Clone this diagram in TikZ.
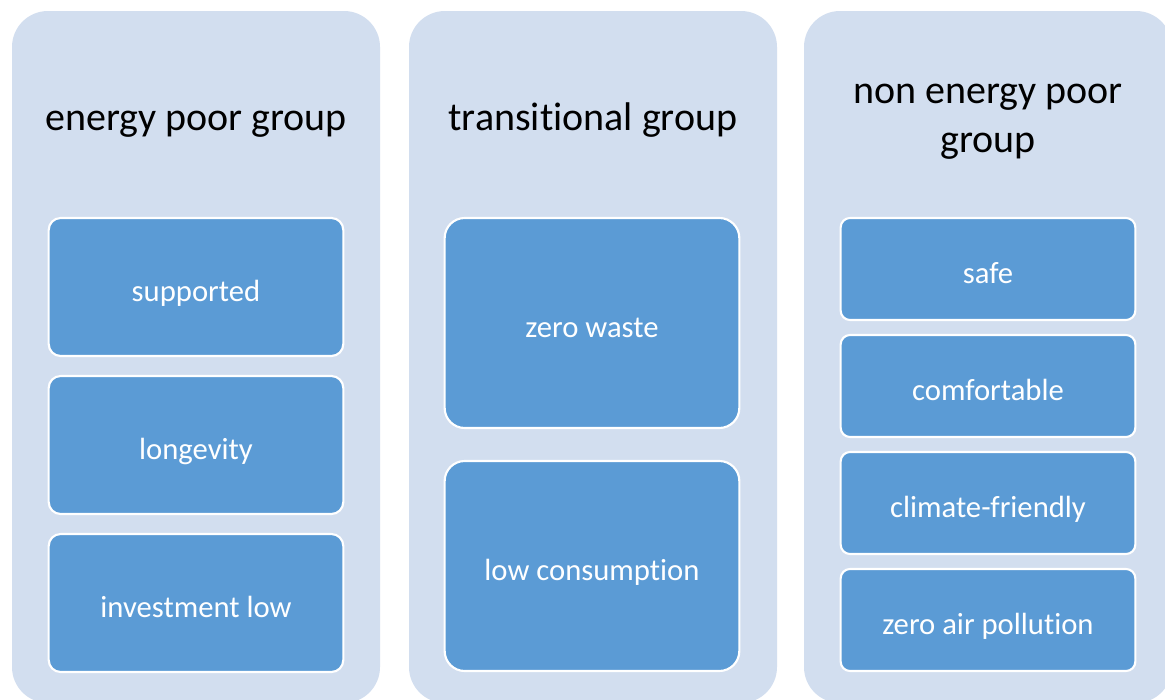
\documentclass[tikz,border=0pt]{standalone}
\usepackage{fontspec}
\setmainfont{Carlito}[Ligatures=NoCommon]
\definecolor{panelfill}{RGB}{210,222,239}
\definecolor{itemfill}{RGB}{91,155,213}
\begin{document}
\begin{tikzpicture}[x=0.75pt,y=-0.75pt,
  panel/.style={draw=none,fill=panelfill,rounded corners=27pt,inner sep=0pt,
    minimum width=276pt,minimum height=519pt},
  itembox/.style={fill=itemfill,draw=white,line width=1.6pt,inner sep=0pt,
    text=white,font=\fontsize{23}{28}\selectfont,
    text height=21pt,text depth=0pt,minimum width=#1},
  itembox/.default=221pt,
  heading/.style={anchor=base,font=\fontsize{30}{36.75}\selectfont,text=black,
    inner sep=0pt,align=center}]
\useasboundingbox (0,0) rectangle (1165,700);
\clip (0,0) rectangle (1165,700);
\fill[white] (0,0) rectangle (1165,700);

% three group panels
\node[panel] (p1) at (196,357) {};
\node[panel] (p2) at (593,357) {};
\node[panel] (p3) at (988,357) {};

% headings
\node[heading] (h1) at (196,130) {energy poor group};
\node[heading] (h2) at (593,130) {transitional group};
\node[heading,anchor=north] (h3) at (988,84) {non energy poor\\group};

% energy poor group
\node[itembox,minimum height=103.5pt,rounded corners=9pt] (a1) at (196,287) {supported};
\node[itembox,minimum height=103.5pt,rounded corners=9pt] (a2) at (196,445) {longevity};
\node[itembox,minimum height=103.5pt,rounded corners=9pt] (a3) at (196,603) {investment low};

% transitional group
\node[itembox,minimum height=157.5pt,rounded corners=15pt] (b1) at (592,323) {zero waste};
\node[itembox,minimum height=157.5pt,rounded corners=15pt] (b2) at (592,566) {low consumption};

% non energy poor group
\node[itembox,minimum height=76.5pt,rounded corners=7pt] (c1) at (988,269) {safe};
\node[itembox,minimum height=76.5pt,rounded corners=7pt] (c2) at (988,386) {comfortable};
\node[itembox,minimum height=76.5pt,rounded corners=7pt] (c3) at (988,503) {climate-friendly};
\node[itembox,minimum height=76.5pt,rounded corners=7pt] (c4) at (988,620) {zero air pollution};
\end{tikzpicture}
\end{document}
